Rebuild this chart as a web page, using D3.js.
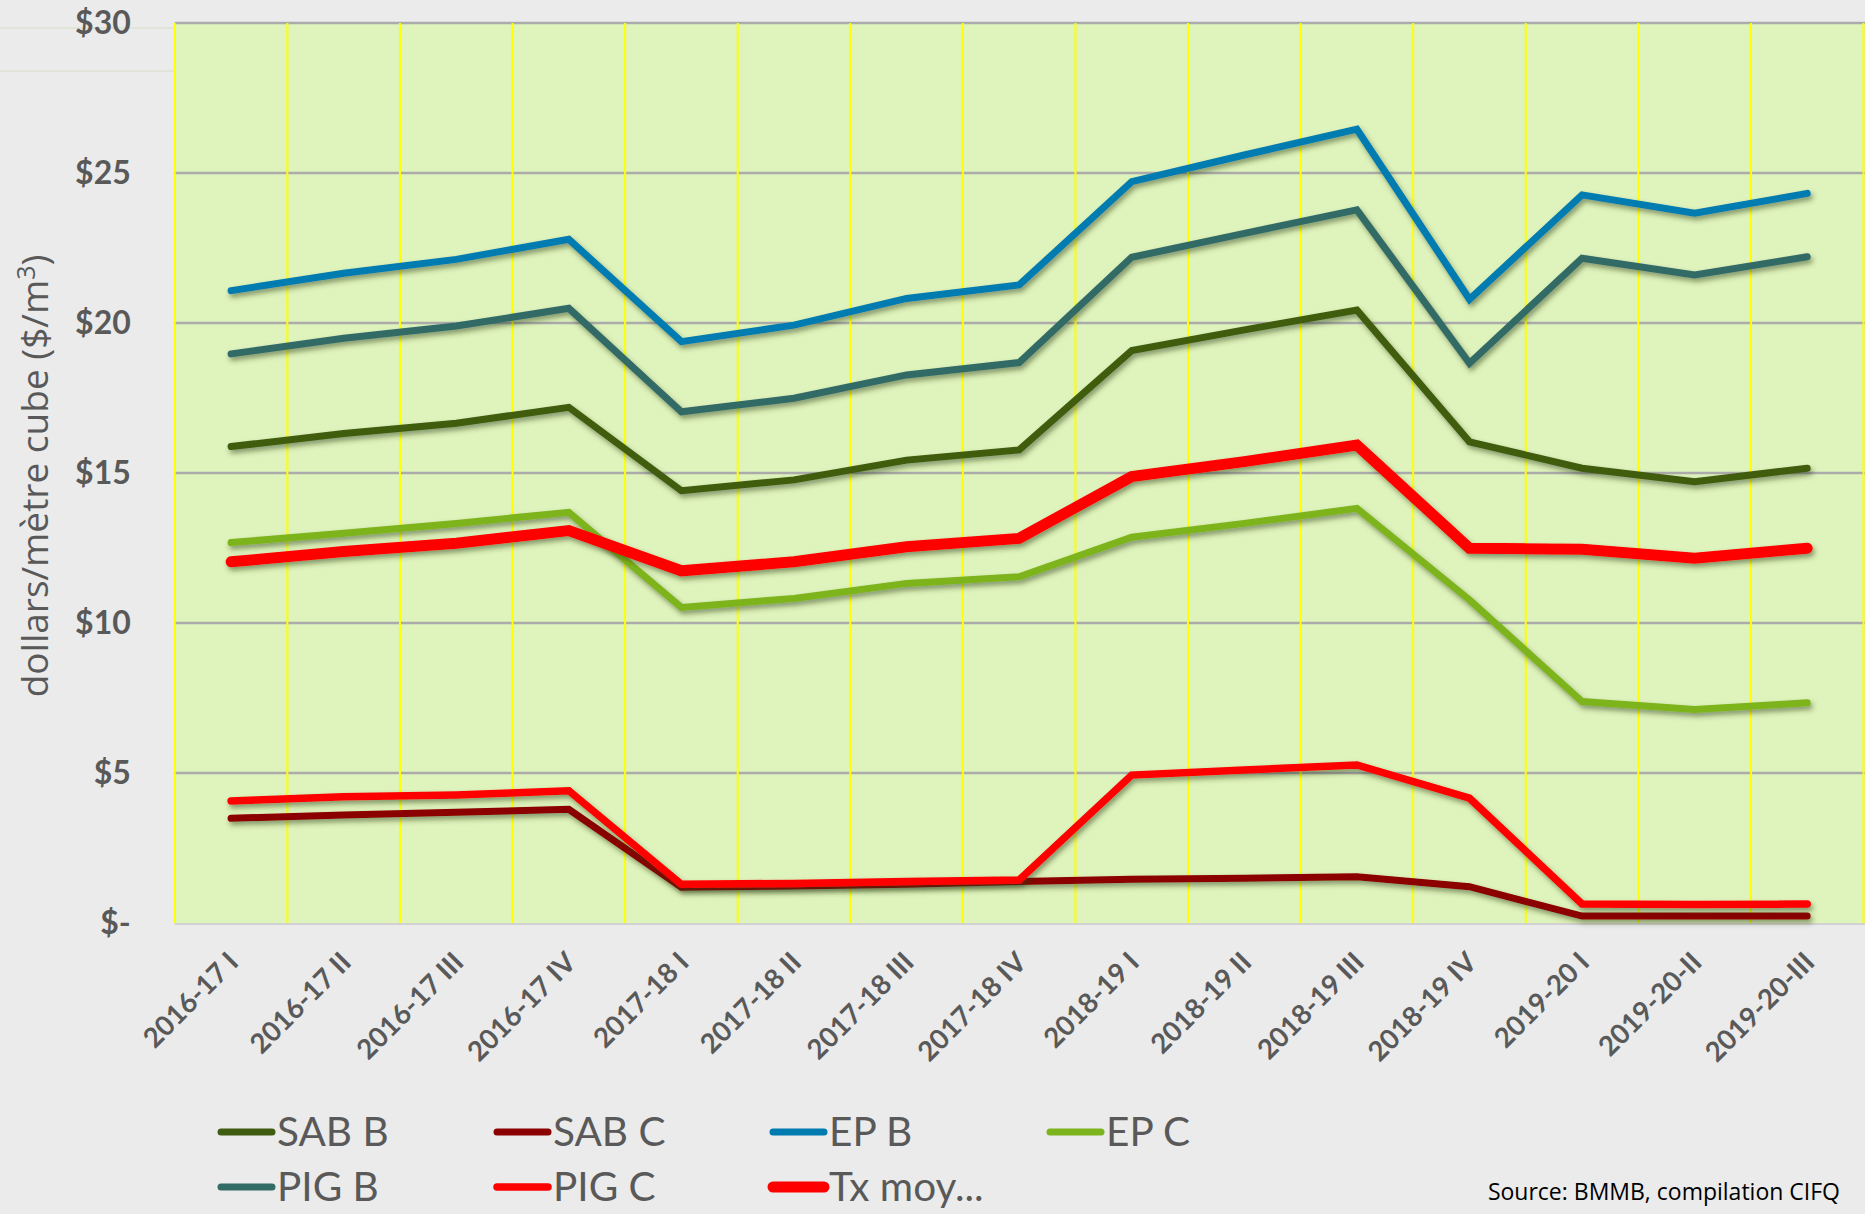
<!DOCTYPE html>
<html>
<head>
<meta charset="utf-8">
<script src="https://cdn.jsdelivr.net/npm/d3@7"></script>
<style>
  body { margin: 0; background-color: #ebebeb; }
  #container { width: 1865px; height: 1214px; }
</style>
</head>
<body>
<div id="container"></div>
<script>
console.log("script loaded");

///////////////////////////

let w = 1865;
let h = 1214;

let plotLeft = 174.8;
let plotRight = 1863.5;
let plotTop = 23;
let plotBottom = 923;

// quarters
let categories = ["2016-17 I", "2016-17 II", "2016-17 III", "2016-17 IV",
  "2017-18 I", "2017-18 II", "2017-18 III", "2017-18 IV",
  "2018-19 I", "2018-19 II", "2018-19 III", "2018-19 IV",
  "2019-20 I", "2019-20-II", "2019-20-III"];

let yTicks = [0, 5, 10, 15, 20, 25, 30];

// $/m3
let sabB  = [15.88, 16.32, 16.66, 17.19, 14.41, 14.77, 15.43, 15.77, 19.08, 19.77, 20.43, 16.04, 15.16, 14.71, 15.16];
let sabC  = [3.49, 3.60, 3.69, 3.79, 1.19, 1.23, 1.29, 1.38, 1.46, 1.49, 1.54, 1.21, 0.23, 0.23, 0.23];
let epB   = [21.08, 21.66, 22.12, 22.79, 19.38, 19.93, 20.82, 21.27, 24.71, 25.60, 26.46, 20.79, 24.27, 23.66, 24.32];
let epC   = [12.68, 12.99, 13.32, 13.69, 10.52, 10.82, 11.32, 11.54, 12.86, 13.32, 13.82, 10.77, 7.38, 7.12, 7.34];
let pigB  = [18.97, 19.49, 19.90, 20.49, 17.04, 17.49, 18.27, 18.68, 22.19, 22.99, 23.77, 18.66, 22.16, 21.60, 22.21];
let pigC  = [4.07, 4.21, 4.27, 4.41, 1.29, 1.32, 1.38, 1.43, 4.93, 5.10, 5.27, 4.16, 0.63, 0.62, 0.63];
let txMoy = [12.04, 12.38, 12.66, 13.08, 11.74, 12.04, 12.54, 12.82, 14.88, 15.38, 15.93, 12.49, 12.46, 12.16, 12.49];

let seriesNames  = ["SAB B", "SAB C", "EP B", "EP C", "PIG B", "PIG C", "Tx moy..."];
let seriesValues = [sabB, sabC, epB, epC, pigB, pigC, txMoy];
let seriesColors = ["#405c10", "#8b0000", "#007bb0", "#7db41e", "#336b66", "#ff0000", "#ff0000"];
let seriesWidths = [7, 7, 7, 7, 7, 7.5, 11];

///////////////////////////

let viz = d3.select("#container").append("svg")
    .attr("width", w)
    .attr("height", h)
    .style("background-color", "#ebebeb")
;

let defs = viz.append("defs");
defs.append("filter")
    .attr("id", "shadow")
    .attr("x", "-5%").attr("y", "-20%")
    .attr("width", "110%").attr("height", "140%")
  .append("feDropShadow")
    .attr("dx", 2)
    .attr("dy", 3.5)
    .attr("stdDeviation", 2.5)
    .attr("flood-color", "#2a3a10")
    .attr("flood-opacity", 0.5)
;

let xScale = d3.scaleBand().domain(categories).range([plotLeft, plotRight]);
let yScale = d3.scaleLinear().domain([0, 30]).range([plotBottom, plotTop]);

// faint lines left of the plot
viz.selectAll(".faint").data([28, 71])
  .enter()
    .append("line")
    .attr("x1", 0)
    .attr("x2", plotLeft)
    .attr("y1", d => d)
    .attr("y2", d => d)
    .attr("stroke", "#d6dcc6")
    .attr("stroke-width", 1)
;

// plot area
viz.append("rect")
    .attr("x", plotLeft)
    .attr("y", plotTop)
    .attr("width", w - plotLeft)
    .attr("height", plotBottom - plotTop)
    .attr("fill", "#dff3bc")
;

viz.append("line")
    .attr("x1", plotLeft)
    .attr("x2", w)
    .attr("y1", plotBottom + 1)
    .attr("y2", plotBottom + 1)
    .attr("stroke", "#d2d2d2")
    .attr("stroke-width", 2)
;

// horizontal grid
viz.selectAll(".hgrid").data(yTicks.filter(d => d > 0))
  .enter()
    .append("line")
    .attr("class", "hgrid")
    .attr("x1", plotLeft)
    .attr("x2", w)
    .attr("y1", d => yScale(d))
    .attr("y2", d => yScale(d))
    .attr("stroke", "#ababab")
    .attr("stroke-width", 2.5)
;

// vertical yellow lines at band edges
let edges = d3.range(categories.length + 1).map(i => plotLeft + i * xScale.bandwidth());
viz.selectAll(".vgrid").data(edges)
  .enter()
    .append("line")
    .attr("class", "vgrid")
    .attr("x1", d => d)
    .attr("x2", d => d)
    .attr("y1", plotTop)
    .attr("y2", plotBottom)
    .attr("stroke", "#ffff00")
    .attr("stroke-width", 2)
;

// series
let line = d3.line()
    .x((d, i) => xScale(categories[i]) + xScale.bandwidth() / 2)
    .y(d => yScale(d))
;

seriesValues.forEach(function(vals, k){
  viz.append("path")
      .datum(vals)
      .attr("d", line)
      .attr("fill", "none")
      .attr("stroke", seriesColors[k])
      .attr("stroke-width", seriesWidths[k])
      .attr("stroke-linecap", "round")
      .attr("stroke-linejoin", "miter")
      .attr("filter", "url(#shadow)")
  ;
});

// y axis
let yAxis = d3.axisLeft(yScale)
    .tickValues(yTicks)
    .tickSize(0)
    .tickPadding(44)
    .tickFormat(d => d === 0 ? "$-" : "$" + d)
;
let yG = viz.append("g")
    .attr("transform", "translate(" + plotLeft + ",0)")
    .call(yAxis)
;
yG.select(".domain").remove();
yG.selectAll("text")
    .attr("font-family", "Lato, sans-serif")
    .attr("font-weight", "bold")
    .attr("font-size", 32)
    .attr("fill", "#595959")
;

// x axis
let xAxis = d3.axisBottom(xScale).tickSize(0);
let xG = viz.append("g")
    .attr("transform", "translate(0," + plotBottom + ")")
    .call(xAxis)
;
xG.select(".domain").remove();
xG.selectAll("text")
    .attr("font-family", "Lato, sans-serif")
    .attr("font-weight", "bold")
    .attr("font-size", 27.5)
    .attr("fill", "#595959")
    .attr("text-anchor", "end")
    .attr("dy", 0)
    .attr("y", 0)
    .attr("transform", "translate(9,41) rotate(-45)")
;

// y title
let yTitle = viz.append("text")
    .attr("transform", "translate(48,476) rotate(-90)")
    .attr("text-anchor", "middle")
    .attr("font-family", "'Open Sans', sans-serif")
    .attr("font-size", 37)
    .attr("fill", "#595959")
;
yTitle.append("tspan").text("dollars/mètre cube ($/m");
yTitle.append("tspan").attr("dy", -13).attr("font-size", 25).text("3");
yTitle.append("tspan").attr("dy", 13).text(")");

// legend
let legendX = [218, 494, 770, 1047];
let legendY = [1132, 1187];

let legend = viz.selectAll(".legend").data(seriesNames)
  .enter()
    .append("g")
    .attr("class", "legend")
    .attr("transform", (d, i) => "translate(" + legendX[i % 4] + "," + legendY[Math.floor(i / 4)] + ")")
;
legend.append("line")
    .attr("x1", 3)
    .attr("x2", 54)
    .attr("y1", 0)
    .attr("y2", 0)
    .attr("stroke", (d, i) => seriesColors[i])
    .attr("stroke-width", (d, i) => seriesWidths[i])
    .attr("stroke-linecap", "round")
;
legend.append("text")
    .attr("x", 59)
    .attr("y", 14)
    .attr("font-family", "Lato, sans-serif")
    .attr("font-size", 40.5)
    .attr("fill", "#595959")
    .text(d => d)
;

viz.append("text")
    .attr("x", 1840)
    .attr("y", 1200)
    .attr("text-anchor", "end")
    .attr("font-family", "'Open Sans', sans-serif")
    .attr("font-size", 23)
    .attr("fill", "#000")
    .text("Source: BMMB, compilation CIFQ")
;

console.log("loaded");
</script>
</body>
</html>
